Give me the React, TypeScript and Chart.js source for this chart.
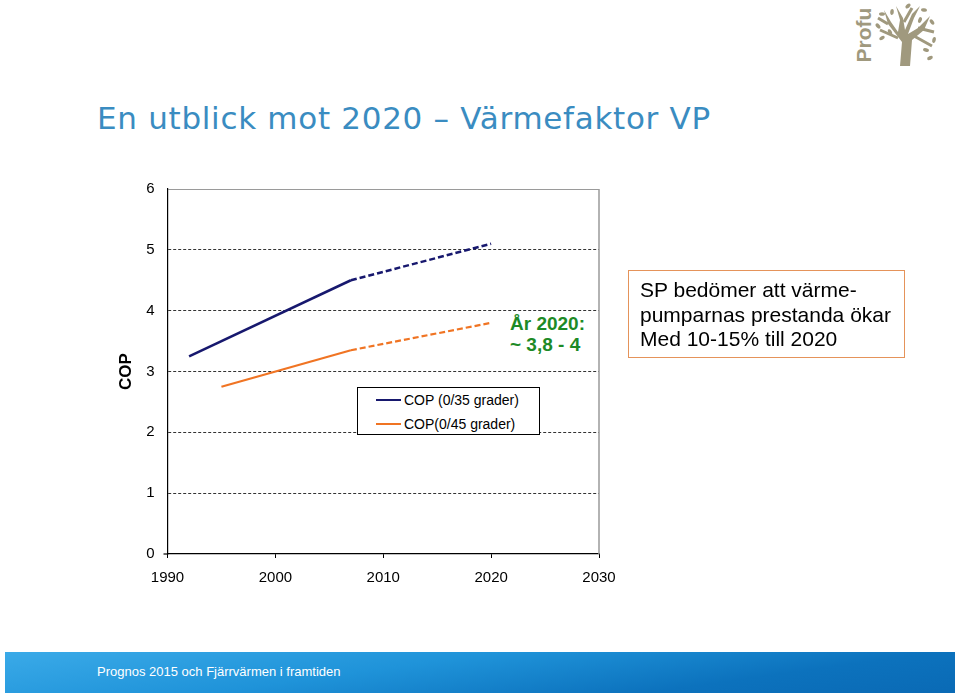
import React, { useEffect, useRef } from "react";
import { Chart, registerables } from "chart.js";

Chart.register(...registerables);

// ---- data ----
const seriesNames = ["COP (0/35 grader)", "COP(0/45 grader)"];
const seriesColors = ["#17186e", "#f07423"];

const histYears35 = [1992, 2007];
const histCop35 = [3.25, 4.5];
const progYears35 = [2007, 2020];
const progCop35 = [4.5, 5.1];

const histYears45 = [1995, 2007];
const histCop45 = [2.75, 3.35];
const progYears45 = [2007, 2020];
const progCop45 = [3.35, 3.8];

const xTicks = [1990, 2000, 2010, 2020, 2030];
const yTicks = [0, 1, 2, 3, 4, 5, 6];

const titleText = "En utblick mot 2020 – Värmefaktor VP";
const yAxisTitle = "COP";
const annotationLines = ["År 2020:", "~ 3,8 - 4"];
const noteLines = ["SP bedömer att värme-", "pumparnas prestanda ökar", "Med 10-15% till 2020"];
const footerText = "Prognos 2015 och Fjärrvärmen i framtiden";

const pts = (xs: number[], ys: number[]) => xs.map((x, i) => ({ x, y: ys[i] }));

const framePlugin = {
  id: "frame",
  afterDraw(chart: any) {
    const { ctx, chartArea } = chart;
    ctx.save();
    ctx.strokeStyle = "#9a9a9a";
    ctx.lineWidth = 1.5;
    ctx.beginPath();
    ctx.moveTo(chartArea.right, chartArea.top);
    ctx.lineTo(chartArea.right, chartArea.bottom);
    ctx.stroke();
    // small stub of the x axis left of the y axis
    ctx.strokeStyle = "#000";
    ctx.lineWidth = 1.2;
    ctx.beginPath();
    ctx.moveTo(chartArea.left - 4, chartArea.bottom);
    ctx.lineTo(chartArea.left, chartArea.bottom);
    ctx.stroke();
    ctx.restore();
  },
};

function CopChart() {
  const ref = useRef<HTMLCanvasElement | null>(null);
  useEffect(() => {
    if (!ref.current) return;
    const font = { family: "'Liberation Sans', Arial, sans-serif", size: 15 };
    const chart = new Chart(ref.current, {
      type: "line",
      data: {
        datasets: [
          { label: seriesNames[0], data: pts(histYears35, histCop35), borderColor: seriesColors[0], borderWidth: 2.5, pointRadius: 0, fill: false, tension: 0 },
          { label: seriesNames[0] + " prognos", data: pts(progYears35, progCop35), borderColor: seriesColors[0], borderWidth: 2.5, borderDash: [6, 3], pointRadius: 0, fill: false, tension: 0 },
          { label: seriesNames[1], data: pts(histYears45, histCop45), borderColor: seriesColors[1], borderWidth: 2.2, pointRadius: 0, fill: false, tension: 0 },
          { label: seriesNames[1] + " prognos", data: pts(progYears45, progCop45), borderColor: seriesColors[1], borderWidth: 2.2, borderDash: [6, 3], pointRadius: 0, fill: false, tension: 0 },
        ],
      },
      options: {
        responsive: false,
        animation: false,
        layout: { padding: { left: 112, top: 189, right: 361, bottom: 102 } },
        plugins: { legend: { display: false }, tooltip: { enabled: false } },
        scales: {
          x: {
            type: "linear",
            min: xTicks[0],
            max: xTicks[xTicks.length - 1],
            afterBuildTicks: (s: any) => { s.ticks = xTicks.map((v) => ({ value: v })); },
            ticks: { color: "#000", font, padding: 11, maxRotation: 0, callback: (v: any) => String(v) },
            grid: { drawOnChartArea: false, drawTicks: true, tickLength: 4, color: "#000" },
            border: { color: "#000", width: 1.2 },
            afterFit: (s: any) => { s.height = 40; },
          },
          y: {
            min: yTicks[0],
            max: yTicks[yTicks.length - 1],
            afterBuildTicks: (s: any) => { s.ticks = yTicks.map((v) => ({ value: v })); },
            ticks: { color: "#000", font, padding: 13 },
            grid: {
              drawTicks: false,
              lineWidth: 1,
              color: (c: any) => (c.tick && c.tick.value === 0 ? "rgba(0,0,0,0)" : c.tick && c.tick.value === 6 ? "#9a9a9a" : "#333"),
            },
            border: {
              color: "#000",
              width: 1.2,
              dash: (c: any) => (c.tick && c.tick.value === 6 ? [] : [3, 2]),
            } as any,
            title: {
              display: true,
              text: yAxisTitle,
              color: "#000",
              font: { family: "'Liberation Sans', Arial, sans-serif", size: 17, weight: "bold" },
              padding: 4,
            },
            afterFit: (s: any) => { s.width = 55.5; },
          },
        },
      },
      plugins: [framePlugin],
    });
    return () => chart.destroy();
  }, []);
  return <canvas ref={ref} width={960} height={696} style={{ position: "absolute", left: 0, top: 0, width: 960, height: 696 }} />;
}

function Logo() {
  const c = "#a0997e";
  return (
    <div style={{ position: "absolute", left: 850, top: 2, width: 92, height: 66 }}>
      <div
        style={{
          position: "absolute",
          left: -16,
          top: 22,
          width: 60,
          height: 22,
          transform: "rotate(-90deg)",
          color: c,
          font: "bold 21px 'Liberation Sans', Arial, sans-serif",
          lineHeight: "22px",
          textAlign: "center",
        }}
      >
        Profu
      </div>
      <svg width="66" height="66" style={{ position: "absolute", left: 24, top: 0 }}>
        <path d="M26 64 L28 40 L14 22 L10 8 L17 20 L24 30 L26 18 L22 4 L29 16 L31 28 L38 12 L46 4 L40 16 L34 32 L44 26 L56 14 L50 28 L38 38 L36 64 Z" fill={c} />
        <path d="M24 36 L6 28 M30 20 L38 6 M44 26 L60 30 M14 22 L4 16 M40 34 L58 44" stroke={c} strokeWidth="3" />
        {[[8, 12], [4, 24], [18, 10], [34, 4], [50, 8], [58, 20], [60, 38], [8, 36], [52, 48], [16, 30], [46, 18], [56, 56]].map(([x, y], i) => (
          <ellipse key={i} cx={x} cy={y} rx="3" ry="1.8" fill={c} transform={`rotate(${(i * 47) % 180} ${x} ${y})`} />
        ))}
      </svg>
    </div>
  );
}

export default function App() {
  return (
    <div style={{ position: "absolute", left: 0, top: 0, width: 960, height: 696, background: "#fff", overflow: "hidden" }}>
      <div
        style={{
          position: "absolute",
          left: 97,
          top: 103,
          font: "31px 'DejaVu Sans', Verdana, sans-serif",
          letterSpacing: "0.7px",
          lineHeight: "30px",
          color: "#3a8cc1",
          whiteSpace: "nowrap",
        }}
      >
        {titleText}
      </div>
      <Logo />
      <CopChart />
      {/* annotation */}
      <div
        style={{
          position: "absolute",
          left: 506,
          top: 313,
          width: 83,
          height: 44,
          background: "#fff",
          color: "#1d8a26",
          font: "bold 19px 'Liberation Sans', Arial, sans-serif",
          lineHeight: "21px",
          paddingLeft: 4,
          boxSizing: "border-box",
          whiteSpace: "nowrap",
        }}
      >
        {annotationLines.map((l, i) => (
          <div key={i}>{l}</div>
        ))}
      </div>
      {/* legend */}
      <div
        style={{
          position: "absolute",
          left: 357,
          top: 387,
          width: 183,
          height: 48,
          border: "1px solid #000",
          background: "#fff",
          boxSizing: "border-box",
          font: "14px 'Liberation Sans', Arial, sans-serif",
          color: "#000",
        }}
      >
        {seriesNames.map((n, i) => (
          <div key={i} style={{ position: "absolute", left: 18, top: 2 + i * 24, height: 20, display: "flex", alignItems: "center", whiteSpace: "nowrap" }}>
            <div style={{ width: 25, height: 2, background: seriesColors[i], marginRight: 3 }} />
            <span>{n}</span>
          </div>
        ))}
      </div>
      {/* note box */}
      <div
        style={{
          position: "absolute",
          left: 628,
          top: 270,
          width: 277,
          height: 88,
          border: "1.5px solid #e5935a",
          boxSizing: "border-box",
          padding: "7px 0 0 11px",
          font: "21px 'Liberation Sans', Arial, sans-serif",
          lineHeight: "24.5px",
          color: "#000",
          whiteSpace: "nowrap",
        }}
      >
        {noteLines.map((l, i) => (
          <div key={i}>{l}</div>
        ))}
      </div>
      {/* footer */}
      <div
        style={{
          position: "absolute",
          left: 5,
          top: 652,
          width: 950,
          height: 41,
          background: "linear-gradient(172deg, #3aaae8 0%, #1f93d9 40%, #0c72bd 75%, #0a6ab5 100%)",
        }}
      >
        <div
          style={{
            position: "absolute",
            left: 92,
            top: 12,
            color: "#fff",
            font: "13px 'Liberation Sans', Arial, sans-serif",
            lineHeight: "16px",
            whiteSpace: "nowrap",
          }}
        >
          {footerText}
        </div>
      </div>
    </div>
  );
}
